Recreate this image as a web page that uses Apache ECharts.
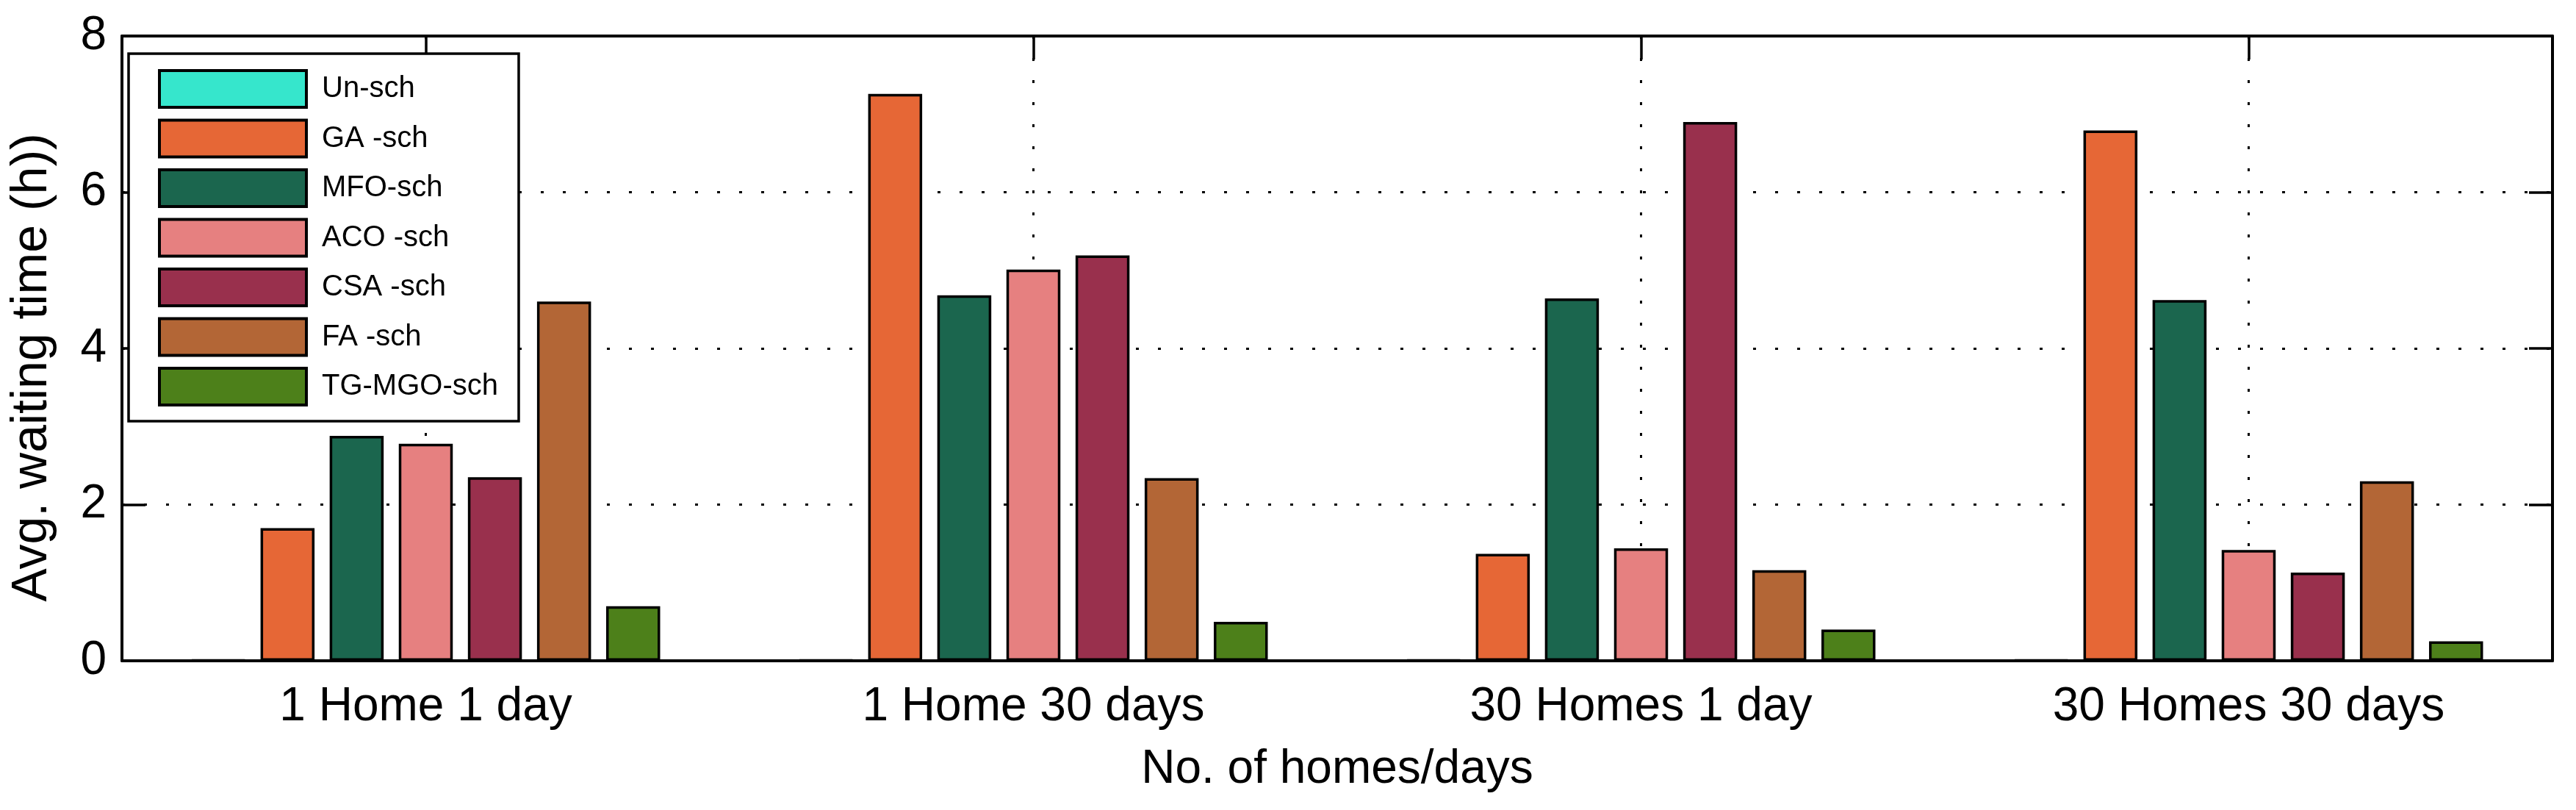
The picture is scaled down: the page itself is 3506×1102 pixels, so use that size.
<!DOCTYPE html>
<html>
<head>
<meta charset="utf-8">
<script src="https://cdn.jsdelivr.net/npm/echarts@6/dist/echarts.min.js"></script>
<style>
  html, body { margin: 0; padding: 0; background: #fff; }
  #chart { width: 3506px; height: 1102px; }
</style>
</head>
<body>
<div id="chart"></div>
<script>
const categories = ['1 Home 1 day', '1 Home 30 days', '30 Homes 1 day', '30 Homes 30 days'];
const seriesNames = ['Un-sch', 'GA -sch', 'MFO-sch', 'ACO -sch', 'CSA -sch', 'FA -sch', 'TG-MGO-sch'];
const seriesColors = ['#36E6CC', '#E66736', '#1B664E', '#E68080', '#99304D', '#B36636', '#4D801A'];
const unSch  = [0.01, 0.01, 0.01, 0.01];
const gaSch  = [1.70, 7.26, 1.37, 6.79];
const mfoSch = [2.88, 4.68, 4.64, 4.62];
const acoSch = [2.78, 5.01, 1.44, 1.42];
const csaSch = [2.35, 5.19, 6.90, 1.13];
const faSch  = [4.60, 2.34, 1.16, 2.30];
const tgSch  = [0.70, 0.50, 0.40, 0.25];
const yTicks = { min: 0, max: 8, interval: 2 };

const allValues = [unSch, gaSch, mfoSch, acoSch, csaSch, faSch, tgSch];
const FONT = '"Liberation Sans", Arial, Helvetica, sans-serif';

const chart = echarts.init(document.getElementById('chart'), null, { renderer: 'canvas' });

const series = seriesNames.map((name, i) => ({
  name: name,
  type: 'bar',
  xAxisIndex: 0,
  yAxisIndex: 0,
  data: allValues[i],
  barWidth: 73.5,
  barGap: '28%',
  itemStyle: { color: seriesColors[i], borderColor: '#000', borderWidth: 3.5 },
  emphasis: { disabled: true },
  animation: false
}));

const dotted = { color: '#000', width: 3, type: [4, 26] };
const axisLineStyle = { show: true, onZero: false, lineStyle: { color: '#000', width: 4 } };
const innerTick = { show: true, inside: true, length: 32, lineStyle: { color: '#000', width: 3.5 } };

chart.setOption({
  animation: false,
  backgroundColor: '#fff',
  textStyle: { fontFamily: FONT },
  grid: { left: 166, right: 32, top: 49, bottom: 203 },
  legend: {
    orient: 'vertical',
    left: 175,
    top: 73,
    itemWidth: 200,
    itemHeight: 50,
    itemGap: 13.5,
    padding: [21, 28, 20, 40],
    backgroundColor: '#fff',
    borderColor: '#000',
    borderWidth: 3.5,
    borderRadius: 0,
    icon: 'rect',
    selectedMode: false,
    itemStyle: { borderColor: '#000', borderWidth: 4 },
    textStyle: { fontSize: 40, color: '#000', fontFamily: FONT, padding: [0, 0, 0, 16] },
    data: seriesNames
  },
  xAxis: [
    {
      type: 'category',
      data: categories,
      position: 'bottom',
      axisLine: axisLineStyle,
      axisTick: Object.assign({ alignWithLabel: true }, innerTick),
      axisLabel: { show: true, fontSize: 64, color: '#000', margin: 31, fontFamily: FONT },
      splitLine: { show: true, alignWithLabel: true, lineStyle: dotted },
      name: 'No. of homes/days',
      nameLocation: 'middle',
      nameGap: 116,
      nameTextStyle: { fontSize: 64, color: '#000', fontFamily: FONT }
    },
    {
      type: 'category',
      data: categories,
      position: 'top',
      axisLine: axisLineStyle,
      axisTick: Object.assign({ alignWithLabel: true }, innerTick),
      axisLabel: { show: false },
      splitLine: { show: false }
    }
  ],
  yAxis: [
    {
      type: 'value',
      position: 'left',
      min: yTicks.min,
      max: yTicks.max,
      interval: yTicks.interval,
      axisLine: axisLineStyle,
      axisTick: innerTick,
      axisLabel: { show: true, fontSize: 64, color: '#000', margin: 21, fontFamily: FONT },
      splitLine: { show: true, lineStyle: dotted },
      name: 'Avg. waiting time (h))',
      nameLocation: 'middle',
      nameGap: 88,
      nameTextStyle: { fontSize: 68, color: '#000', fontFamily: FONT, padding: [0, 52, 0, 0] }
    },
    {
      type: 'value',
      position: 'right',
      min: yTicks.min,
      max: yTicks.max,
      interval: yTicks.interval,
      axisLine: axisLineStyle,
      axisTick: innerTick,
      axisLabel: { show: false },
      splitLine: { show: false }
    }
  ],
  series: series
});
</script>
</body>
</html>
